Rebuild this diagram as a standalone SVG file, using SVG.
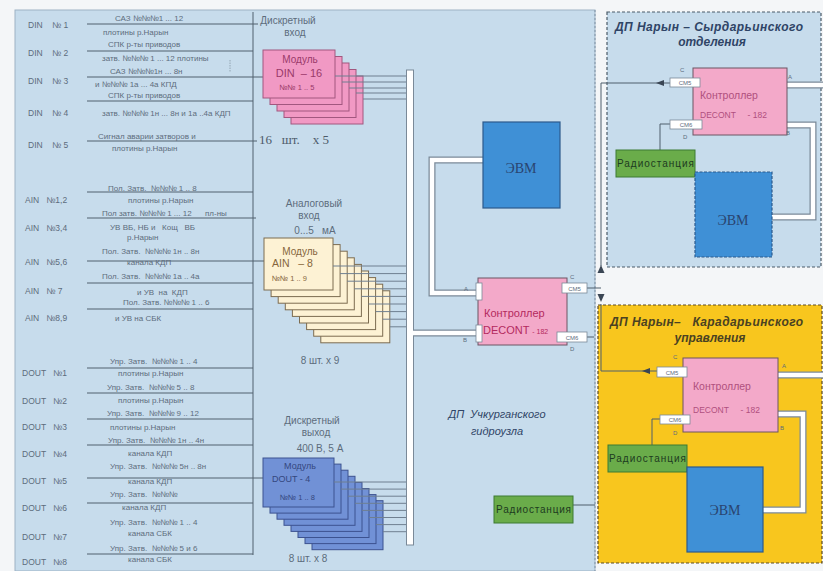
<svg xmlns="http://www.w3.org/2000/svg" width="823" height="571" viewBox="0 0 823 571" xml:space="preserve">
<defs>
<style>
text{white-space:pre}
.t{font-family:"Liberation Sans",Arial,sans-serif;font-size:8px;fill:#5d6c7c}
.lb{font-family:"Liberation Sans",Arial,sans-serif;font-size:8.5px;fill:#5d6c7c}
.ln{stroke:#51606f;stroke-width:1;fill:none}
.hd{font-family:"Liberation Sans",Arial,sans-serif;font-size:10px;fill:#5d6c7c;text-anchor:middle}
.din{fill:#f199c4;stroke:#a2577f;stroke-width:1}
.ain{fill:#fdf2d4;stroke:#7c6c50;stroke-width:1}
.dout{fill:#7191d6;stroke:#3c5290;stroke-width:1}
.mt{font-family:"Liberation Sans",Arial,sans-serif;text-anchor:middle}
.bus{stroke:#6f7f90;stroke-width:1;fill:none}
.po{stroke:#7a8998;stroke-width:7;fill:none}
.pi{stroke:#ffffff;stroke-width:4.5;fill:none}
.ctl{fill:#f3a9c9;stroke:#6c5563;stroke-width:1}
.ctt{font-family:"Liberation Sans",Arial,sans-serif;font-size:11px;fill:#b42a5e}
.evm{fill:#3f90d6;stroke:#2c5a8c;stroke-width:1.2}
.evt{font-family:"Liberation Serif","Times New Roman",serif;font-size:14px;fill:#2a4470;text-anchor:middle}
.rad{fill:#6aac4a;stroke:#3c7a32;stroke-width:1}
.rdt{font-family:"Liberation Sans",Arial,sans-serif;font-size:10px;fill:#1d3b1f}
.pb{fill:#ffffff;stroke:#7a8998;stroke-width:0.8}
.pt{font-family:"Liberation Sans",Arial,sans-serif;font-size:6px;fill:#5d6c7c;text-anchor:middle}
.sm{font-family:"Liberation Sans",Arial,sans-serif;font-size:6px;fill:#5d6c7c}
.ttl{font-family:"Liberation Sans",Arial,sans-serif;font-size:12px;font-style:italic;font-weight:bold;fill:#2f4466}
.ttly{font-family:"Liberation Sans",Arial,sans-serif;font-size:12px;font-style:italic;font-weight:bold;fill:#4a4222}
.cn{stroke:#4f5e6c;stroke-width:1;fill:none}
</style>
</defs>

<!-- backgrounds -->
<rect x="0" y="0" width="823" height="571" fill="#f4f6f8"/>
<rect id="main-panel" x="15" y="10" width="580" height="561" fill="#c7dcec" stroke="#9db2c4" stroke-width="1"/>
<line x1="595" y1="10" x2="595" y2="571" stroke="#8093a6" stroke-width="1" stroke-dasharray="2,2"/>
<g id="panel-syr">
<rect x="607" y="12" width="214" height="255" fill="#c7dcec" stroke="#4a5a68" stroke-width="1.2" stroke-dasharray="3,2"/>
<text class="ttl" x="615" y="31" textLength="188">ДП Нарын – Сырдарьинского</text>
<text class="ttl" x="712" y="46" text-anchor="middle">отделения</text>
</g>
<g id="panel-kar">
<rect x="598" y="305" width="224" height="258" fill="#f8c61e" stroke="#5a4a22" stroke-width="1.2" stroke-dasharray="3,2"/>
<text class="ttly" x="610" y="326" textLength="193">ДП Нарын–   Карадарьинского</text>
<text class="ttly" x="710" y="342" text-anchor="middle">управления</text>
</g>

<!-- left column -->
<g id="left-column">
<line class="ln" x1="253" y1="12" x2="253" y2="555"/>
<text class="lb" x="28" y="28">DIN    № 1</text>
<text class="lb" x="28" y="56">DIN    № 2</text>
<text class="lb" x="28" y="84">DIN    № 3</text>
<text class="lb" x="28" y="116">DIN    № 4</text>
<text class="lb" x="28" y="148">DIN    № 5</text>
<line class="ln" x1="87" y1="24" x2="258" y2="24"/>
<line class="ln" x1="87" y1="51" x2="253" y2="51"/>
<line class="ln" x1="87" y1="77" x2="263" y2="77"/>
<line class="ln" x1="87" y1="101" x2="253" y2="101"/>
<line class="ln" x1="87" y1="141" x2="257" y2="141"/>
<line x1="230" y1="60" x2="230" y2="72" stroke="#8797a7" stroke-width="0.8" stroke-dasharray="1.5,1"/>
<text class="t" x="115" y="21">САЗ №№№1 ... 12</text>
<text class="t" x="103" y="35">плотины р.Нарын</text>
<text class="t" x="108" y="47">СПК р-ты приводов</text>
<text class="t" x="102" y="61">затв. №№№ 1 ... 12 плотины</text>
<text class="t" x="110" y="74">САЗ №№№1н ... 8н</text>
<text class="t" x="95" y="87">и №№№ 1а ... 4а КПД</text>
<text class="t" x="108" y="98">СПК р-ты приводов</text>
<text class="t" x="102" y="116">затв. №№№ 1н ... 8н и 1а ..4а КДП</text>
<text class="t" x="98" y="139">Сигнал аварии затворов и</text>
<text class="t" x="112" y="151">плотины р.Нарын</text>

<text class="lb" x="25" y="203">AIN   №1,2</text>
<text class="lb" x="25" y="231">AIN   №3,4</text>
<text class="lb" x="25" y="265">AIN   №5,6</text>
<text class="lb" x="25" y="294">AIN   № 7</text>
<text class="lb" x="25" y="321">AIN   №8,9</text>
<line class="ln" x1="87" y1="192" x2="253" y2="192"/>
<line class="ln" x1="87" y1="218" x2="256" y2="218"/>
<line class="ln" x1="87" y1="261" x2="264" y2="261"/>
<line class="ln" x1="87" y1="283" x2="253" y2="283"/>
<line class="ln" x1="87" y1="309" x2="253" y2="309"/>
<text class="t" x="108" y="191">Пол. Затв.  №№№ 1 .. 8</text>
<text class="t" x="128" y="203">плотины р.Нарын</text>
<text class="t" x="102" y="216">Пол затв. №№№ 1 ... 12      пл-ны</text>
<text class="t" x="110" y="230">УВ ВБ, НБ и   Кощ   ВБ</text>
<text class="t" x="127" y="240">р.Нарын</text>
<text class="t" x="102" y="254">Пол. Затв.  №№№ 1н .. 8н</text>
<text class="t" x="127" y="265">канала КДП</text>
<text class="t" x="102" y="279">Пол. Затв.  №№№ 1а .. 4а</text>
<text class="t" x="137" y="295">и УВ  на  КДП</text>
<text class="t" x="123" y="305">Пол. Затв. №№№ 1 .. 6</text>
<text class="t" x="115" y="321">и УВ на СБК</text>

<text class="lb" x="22" y="376">DOUT   №1</text>
<text class="lb" x="22" y="404">DOUT   №2</text>
<text class="lb" x="22" y="430">DOUT   №3</text>
<text class="lb" x="22" y="457">DOUT   №4</text>
<text class="lb" x="22" y="484">DOUT   №5</text>
<text class="lb" x="22" y="511">DOUT   №6</text>
<text class="lb" x="22" y="540">DOUT   №7</text>
<text class="lb" x="22" y="565">DOUT   №8</text>
<line class="ln" x1="87" y1="368" x2="253" y2="368"/>
<line class="ln" x1="87" y1="393" x2="253" y2="393"/>
<line class="ln" x1="87" y1="419" x2="253" y2="419"/>
<line class="ln" x1="87" y1="445" x2="253" y2="445"/>
<line class="ln" x1="87" y1="478" x2="263" y2="478"/>
<line class="ln" x1="87" y1="503" x2="253" y2="503"/>
<line class="ln" x1="87" y1="554" x2="253" y2="554"/>
<text class="t" x="110" y="364">Упр. Затв.  №№№ 1 .. 4</text>
<text class="t" x="118" y="376">плотины р.Нарын</text>
<text class="t" x="107" y="390">Упр. Затв.  №№№ 5 .. 8</text>
<text class="t" x="118" y="403">плотины р.Нарын</text>
<text class="t" x="107" y="416">Упр. Затв.  №№№ 9 .. 12</text>
<text class="t" x="110" y="430">плотины р.Нарын</text>
<text class="t" x="108" y="443">Упр. Затв.  №№№ 1н .. 4н</text>
<text class="t" x="128" y="456">канала КДП</text>
<text class="t" x="110" y="469">Упр. Затв.  №№№ 5н .. 8н</text>
<text class="t" x="128" y="484">канала КДП</text>
<text class="t" x="110" y="497">Упр. Затв.  №№№</text>
<text class="t" x="122" y="510">канала КДП</text>
<text class="t" x="110" y="525">Упр. Затв.  №№№ 1 .. 4</text>
<text class="t" x="128" y="536">канала СБК</text>
<text class="t" x="110" y="551">Упр. Затв.  №№№ 5 и 6</text>
<text class="t" x="128" y="562">канала СБК</text>
</g>

<!-- DIN modules -->
<g id="din-modules">
<text class="hd" x="288" y="24">Дискретный</text>
<text class="hd" x="295" y="36">вход</text>
<rect class="din" x="291" y="76" width="72" height="48"/>
<rect class="din" x="284" y="69.5" width="72" height="48"/>
<rect class="din" x="277" y="63" width="72" height="48"/>
<rect class="din" x="270" y="56.5" width="72" height="48"/>
<rect class="din" x="263" y="50" width="72" height="48"/>
<text class="mt" x="300" y="63" font-size="10" fill="#9a3a6a">Модуль</text>
<text class="mt" x="299" y="77" font-size="11" fill="#9a3a6a">DIN  – 16</text>
<text class="mt" x="297" y="90" font-size="7.5" fill="#9a3a6a">№№ 1 .. 5</text>
<text x="259" y="144" font-family="'Liberation Serif','Times New Roman',serif" font-size="13" fill="#4d5b6a">16   шт.    х 5</text>
</g>

<!-- AIN modules -->
<g id="ain-modules">
<text class="hd" x="314" y="207">Аналоговый</text>
<text class="hd" x="309" y="219">вход</text>
<text class="hd" x="315" y="234">0...5   мА</text>
<rect class="ain" x="320.8" y="290.8" width="69" height="52"/>
<rect class="ain" x="313.7" y="284.2" width="69" height="52"/>
<rect class="ain" x="306.6" y="277.6" width="69" height="52"/>
<rect class="ain" x="299.5" y="271" width="69" height="52"/>
<rect class="ain" x="292.4" y="264.4" width="69" height="52"/>
<rect class="ain" x="285.3" y="257.8" width="69" height="52"/>
<rect class="ain" x="278.2" y="251.2" width="69" height="52"/>
<rect class="ain" x="271.1" y="244.6" width="69" height="52"/>
<rect class="ain" x="264" y="238" width="69" height="52"/>
<text class="mt" x="300" y="255" font-size="10" fill="#86663c">Модуль</text>
<text x="272" y="267" font-family="'Liberation Sans',Arial,sans-serif" font-size="10.5" fill="#86663c">AIN   – 8</text>
<text x="272" y="281" font-family="'Liberation Sans',Arial,sans-serif" font-size="7.5" fill="#86663c">№№ 1 .. 9</text>
<text class="hd" x="320" y="364" font-size="11">8 шт. х 9</text>
</g>

<!-- DOUT modules -->
<g id="dout-modules">
<text class="hd" x="312" y="424">Дискретный</text>
<text class="hd" x="316" y="436">выход</text>
<text class="hd" x="320" y="452">400 В, 5 А</text>
<rect class="dout" x="312" y="500.7" width="71" height="49"/>
<rect class="dout" x="305" y="494.6" width="71" height="49"/>
<rect class="dout" x="298" y="488.5" width="71" height="49"/>
<rect class="dout" x="291" y="482.4" width="71" height="49"/>
<rect class="dout" x="284" y="476.3" width="71" height="49"/>
<rect class="dout" x="277" y="470.2" width="71" height="49"/>
<rect class="dout" x="270" y="464.1" width="71" height="49"/>
<rect class="dout" x="263" y="458" width="71" height="49"/>
<text class="mt" x="300" y="469" font-size="9" fill="#34477e">Модуль</text>
<text x="272" y="482" font-family="'Liberation Sans',Arial,sans-serif" font-size="9" fill="#34477e">DOUT - 4</text>
<text x="280" y="500" font-family="'Liberation Sans',Arial,sans-serif" font-size="7.5" fill="#34477e">№№ 1 .. 8</text>
<text class="hd" x="308" y="562" font-size="11">8 шт. х 8</text>
</g>

<!-- connectors -->
<g id="connectors">
<path class="bus" d="M335,76H407M342,82H407M349,88H407M356,93H407M363,99H407"/>
<path class="bus" d="M333,266H407M340.1,273.6H407M347.2,281.2H407M354.3,288.8H407M361.4,296.4H407M368.5,304H407M375.6,311.6H407M382.7,319.2H407M389.8,326.8H407"/>
<path class="bus" d="M334,482H407M341,489.1H407M348,496.2H407M355,503.3H407M362,510.4H407M369,517.5H407M376,524.6H407M383,531.7H407"/>
<rect x="406.5" y="70" width="7" height="475" fill="#ffffff" stroke="#7a8998" stroke-width="1"/>
<path class="po" d="M413,333H477M483,160H432V293H477"/>
<path class="pi" d="M412,333H478M484,160H432V293H478"/>
<path class="po" d="M787,85H823M787,125H813V217H772"/>
<path class="pi" d="M786,85H823M786,125H813V217H771"/>
<path class="po" d="M778,375H823M778,414H803V510H763"/>
<path class="pi" d="M777,375H823M777,414H803V510H762"/>
<path class="cn" d="M587,288H601M587,337H594M573,505H595"/>
<path class="cn" d="M601,83V266M601,304V371"/>
<polygon points="601,265 597.5,273 604.5,273" fill="#3a4654"/>
<polygon points="601,302 597.5,294 604.5,294" fill="#3a4654"/>
<path class="cn" d="M601,83H670"/>
<polygon points="656,83 664,80 664,86" fill="#3a4654"/>
<path class="cn" d="M670,124H660V150"/>
<path class="cn" d="M601,371H657"/>
<polygon points="642,371 650,368 650,374" fill="#3a4654"/>
<path class="cn" d="M660,419H652V445"/>
</g>

<!-- main node set -->
<g id="evm-main">
<rect class="evm" x="483" y="122" width="77" height="86"/>
<text class="evt" x="521" y="173">ЭВМ</text>
</g>
<g id="controller-main">
<rect class="ctl" x="478" y="278" width="89" height="67"/>
<rect class="pb" x="476" y="283" width="6" height="17"/>
<rect class="pb" x="476" y="325" width="6" height="17"/>
<text class="ctt" x="484" y="317">Контроллер</text>
<text class="ctt" x="483" y="334" font-size="10.5">DECONT <tspan font-size="7">- 182</tspan></text>
<text class="sm" x="464" y="291">A</text>
<text class="sm" x="463" y="342">B</text>
<text class="sm" x="570" y="279">C</text>
<text class="sm" x="570" y="351">D</text>
<rect class="pb" x="562" y="283" width="25" height="10"/>
<text class="pt" x="574.5" y="290.5">СМ5</text>
<rect class="pb" x="557" y="332" width="30" height="10"/>
<text class="pt" x="572" y="339.5">СМ6</text>
</g>
<g id="radio-main">
<rect class="rad" x="494" y="496" width="79" height="27"/>
<text class="rdt" x="496" y="513" textLength="75">Радиостанция</text>
</g>
<g id="label-main">
<text x="497" y="418" text-anchor="middle" font-family="'Liberation Sans',Arial,sans-serif" font-size="11" font-style="italic" fill="#2f4466">ДП  Учкурганского</text>
<text x="497" y="435" text-anchor="middle" font-family="'Liberation Sans',Arial,sans-serif" font-size="11" font-style="italic" fill="#2f4466">гидроузла</text>
</g>

<!-- top right panel nodes -->
<g id="controller-syr">
<rect class="ctl" x="693" y="68" width="94" height="67"/>
<text x="700" y="99" font-family="'Liberation Sans',Arial,sans-serif" font-size="10.5" fill="#b0507e">Контроллер</text>
<text x="700" y="118" font-family="'Liberation Sans',Arial,sans-serif" font-size="8.5" fill="#b0507e">DECONT     - 182</text>
<text class="sm" x="680" y="72">C</text>
<text class="sm" x="788" y="79">A</text>
<text class="sm" x="786" y="135">B</text>
<text class="sm" x="683" y="139">D</text>
<rect class="pb" x="670" y="78" width="30" height="9"/>
<text class="pt" x="685" y="85">СМ5</text>
<rect class="pb" x="670" y="120" width="32" height="9"/>
<text class="pt" x="686" y="127">СМ6</text>
</g>
<g id="radio-syr">
<rect class="rad" x="616" y="150" width="79" height="27"/>
<text class="rdt" x="617" y="167" textLength="77">Радиостанция</text>
</g>
<g id="evm-syr">
<rect class="evm" x="695" y="172" width="77" height="85" stroke-dasharray="3,1.5"/>
<text class="evt" x="733" y="225">ЭВМ</text>
</g>

<!-- yellow panel nodes -->
<g id="controller-kar">
<rect class="ctl" x="683" y="358" width="95" height="74"/>
<text x="693" y="390" font-family="'Liberation Sans',Arial,sans-serif" font-size="10.5" fill="#b0507e">Контроллер</text>
<text x="693" y="413" font-family="'Liberation Sans',Arial,sans-serif" font-size="8.5" fill="#b0507e">DECONT     - 182</text>
<text class="sm" x="673" y="359">C</text>
<text class="sm" x="782" y="368">A</text>
<text class="sm" x="780" y="430">B</text>
<text class="sm" x="673" y="435">D</text>
<rect class="pb" x="657" y="367" width="30" height="10"/>
<text class="pt" x="672" y="374.5">СМ5</text>
<rect class="pb" x="660" y="415" width="30" height="9"/>
<text class="pt" x="675" y="422">СМ6</text>
</g>
<g id="radio-kar">
<rect class="rad" x="608" y="445" width="79" height="27"/>
<text class="rdt" x="609" y="462" textLength="77">Радиостанция</text>
</g>
<g id="evm-kar">
<rect class="evm" x="687" y="467" width="76" height="85"/>
<text class="evt" x="725" y="515">ЭВМ</text>
</g>
</svg>
